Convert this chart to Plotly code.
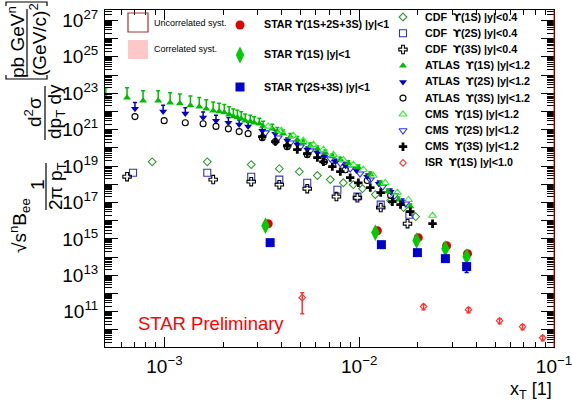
import plotly.graph_objects as go

# ---------------- data (x_T , scaled cross section) ----------------
cdf1s_x = [8.65e-4, 1.66e-3, 2.79e-3, 3.89e-3, 4.93e-3, 6.10e-3, 7.11e-3, 8.29e-3, 9.33e-3, 1.04e-2, 1.21e-2, 1.45e-2, 1.69e-2, 1.95e-2]
cdf1s_y = [1.7e19, 1.7e19, 1.2e19, 7.2e18, 4.9e18, 3.0e18, 1.8e18, 1.2e18, 9.5e17, 5.7e17, 2.7e17, 1.26e17, 5.2e16, 1.66e16]

cdf2s_x = [6.90e-4, 1.66e-3, 2.79e-3, 3.89e-3, 5.41e-3, 7.73e-3, 9.79e-3, 1.29e-2, 1.81e-2]
cdf2s_y = [4.3e18, 4.3e18, 2.6e18, 1.8e18, 1.2e18, 5.0e17, 2.1e17, 7.6e16, 2.1e16]

cdf3s_x = [6.43e-4, 1.78e-3, 2.79e-3, 3.89e-3, 5.41e-3, 7.64e-3, 9.79e-3, 1.29e-2, 1.77e-2]
cdf3s_y = [2.6e18, 1.8e18, 1.39e18, 9.5e17, 5.7e17, 2.1e17, 1.8e17, 5.2e16, 6.8e15]

atlas1s_x = [5.0e-4, 6.43e-4, 7.77e-4, 9.29e-4, 1.07e-3, 1.20e-3, 1.36e-3, 1.51e-3, 1.64e-3, 1.78e-3,
             1.91e-3, 2.03e-3, 2.15e-3, 2.26e-3, 2.37e-3, 2.48e-3, 2.60e-3, 2.76e-3, 2.89e-3, 3.07e-3,
             3.21e-3, 3.58e-3, 3.80e-3, 4.07e-3, 4.43e-3, 4.81e-3, 5.16e-3, 5.61e-3, 6.10e-3, 6.70e-3,
             7.28e-3, 8.0e-3, 8.79e-3, 9.9e-3, 1.14e-2, 1.29e-2, 1.40e-2, 1.59e-2, 1.83e-2]
atlas1s_y = [5.7e22, 5.7e22, 3.9e22, 3.9e22, 3.0e22, 2.7e22, 2.1e22, 1.8e22, 1.4e22, 1.1e22,
             9.8e21, 8.6e21, 6.7e21, 5.2e21, 4.6e21, 4.0e21, 3.1e21, 2.8e21, 2.4e21, 2.1e21,
             1.5e21, 1.1e21, 7.8e20, 6.0e20, 4.1e20, 2.8e20, 1.9e20, 1.3e20, 9.0e19, 5.4e19,
             3.3e19, 2.2e19, 1.4e19, 8.2e18, 3.4e18, 1.08e18, 3.9e17, 1.4e17, 5.9e16]
atlas1s_rel_up = [2.5, 2.5, 2.5, 2.5, 2.5, 2.4, 2.3, 2.2, 2.1, 2.0,
                  1.9, 1.8, 1.7, 1.6, 1.5, 1.4, 1.3, 1.2, 1.1, 1.0,
                  0.9, 0.8, 0.7, 0.6, 0.5, 0.5, 0.4, 0.4, 0.4, 0.4,
                  0.4, 0.4, 0.4, 0.4, 0.4, 0.4, 0.4, 0.4, 0.4]

atlas2s_x = [7.06e-4, 9.85e-4, 1.28e-3, 1.58e-3, 1.84e-3, 2.13e-3, 2.42e-3, 2.69e-3, 3.18e-3, 3.71e-3,
             4.27e-3, 4.81e-3, 5.41e-3, 6.10e-3, 6.62e-3, 7.55e-3, 8.50e-3, 9.68e-3, 1.10e-2, 1.26e-2,
             1.45e-2, 1.67e-2]
atlas2s_y = [1.4e22, 9.8e21, 7.6e21, 4.6e21, 3.1e21, 2.4e21, 1.9e21, 1.5e21, 8.8e20, 6.0e20,
             2.5e20, 1.5e20, 8.0e19, 5.4e19, 3.3e19, 1.7e19, 1.05e19, 5.6e18, 2.6e18, 1.08e18,
             3.9e17, 1.1e17]
atlas2s_rel_up = [1.2, 1.2, 1.1, 1.0, 1.0, 0.9, 0.8, 0.7, 0.6, 0.5,
                  0.4, 0.4, 0.4, 0.4, 0.4, 0.4, 0.4, 0.4, 0.4, 0.4, 0.4, 0.4]

atlas3s_x = [7.06e-4, 9.97e-4, 1.28e-3, 1.58e-3, 1.84e-3, 2.13e-3, 2.42e-3, 2.69e-3, 3.18e-3, 3.71e-3,
             4.27e-3, 5.41e-3, 6.62e-3, 8.50e-3, 1.10e-2, 1.45e-2]
atlas3s_y = [5.2e21, 3.1e21, 2.4e21, 2.1e21, 1.5e21, 1.1e21, 7.8e20, 6.0e20, 3.6e20, 2.2e20,
             1.16e20, 4.2e19, 1.7e19, 6.3e18, 1.6e18, 2.4e17]

cms1s_x = [3.41e-3, 3.98e-3, 4.59e-3, 5.16e-3, 5.82e-3, 6.55e-3, 7.37e-3, 8.29e-3, 9.33e-3, 1.05e-2,
           1.18e-2, 1.36e-2, 1.57e-2, 1.79e-2, 2.38e-2]
cms1s_y = [1.5e21, 8.8e20, 4.7e20, 2.5e20, 1.5e20, 8.0e19, 4.2e19, 2.2e19, 1.2e19, 6.3e18,
           3.0e18, 1.2e18, 3.5e17, 1.4e17, 1.9e16]

cms2s_x = [3.30e-3, 3.84e-3, 4.43e-3, 4.99e-3, 5.61e-3, 6.32e-3, 7.11e-3, 8.0e-3, 8.99e-3, 1.01e-2,
           1.14e-2, 1.32e-2, 1.52e-2, 1.73e-2]
cms2s_y = [6.8e20, 3.6e20, 1.9e20, 1.16e20, 7.0e19, 4.2e19, 2.55e19, 1.4e19, 7.2e18, 3.8e18,
           1.8e18, 7.4e17, 2.4e17, 8.6e16]

cms3s_x = [3.18e-3, 3.71e-3, 4.27e-3, 4.81e-3, 5.41e-3, 6.10e-3, 6.55e-3, 7.28e-3, 8.0e-3, 8.99e-3,
           9.9e-3, 1.14e-2, 1.29e-2, 1.48e-2, 1.63e-2, 1.83e-2, 2.38e-2]
cms3s_y = [4.1e20, 2.2e20, 1.3e20, 8.0e19, 4.8e19, 2.9e19, 1.7e19, 9.3e18, 4.9e18, 2.3e18,
           1.2e18, 6.5e17, 3.5e17, 1.1e17, 7.6e16, 3.1e16, 6.8e15]

isr1s_x = [5.10e-3, 2.14e-2, 3.64e-2, 5.26e-2, 6.90e-2, 8.75e-2]
isr1s_y = [5.9e11, 1.9e11, 1.29e11, 3.2e10, 1.5e10, 3.7e9]
isr1s_rel_up = [0.88, 0.29, 0.29, 0.29, 0.29, 0.29]
isr1s_rel_dn = [0.87, 0.32, 0.32, 0.32, 0.32, 0.32]

star123_x = [3.41e-3, 1.24e-2, 2.01e-2, 2.81e-2, 3.60e-2]
star123_y = [6.8e15, 2.8e15, 1.16e15, 4.2e14, 1.54e14]
star1s_x = [3.30e-3, 1.21e-2, 1.97e-2, 2.77e-2, 3.56e-2]
star1s_y = [5.3e15, 2.2e15, 8.0e14, 2.9e14, 1.05e14]
star23_x = [3.49e-3, 1.30e-2, 1.99e-2, 2.77e-2, 3.56e-2]
star23_y = [6.2e14, 4.8e14, 1.75e14, 8.2e13, 3.0e13]
star23_rel_dn = [0.35, 0.2, 0.2, 0.3, 0.53]

x_tick_vals = [1e-3, 1e-2, 1e-1]
x_tick_text = ["10<sup>−3</sup>", "10<sup>−2</sup>", "10<sup>−1</sup>"]
y_exponents = list(range(9, 28))

UPS = '<span style="font-family:DejaVu Sans">ϒ</span>'
legend_right = [
    ("CDF  %s(1S) |y|<0.4", "diamond-open", "#339933", 6),
    ("CDF  %s(2S) |y|<0.4", "square-open", "#3333bb", 7),
    ("CDF  %s(3S) |y|<0.4", "cross-open", "#000000", 7),
    ("ATLAS  %s(1S) |y|<1.2", "triangle-up", "#00bb00", 7),
    ("ATLAS  %s(2S) |y|<1.2", "triangle-down", "#0000cc", 7),
    ("ATLAS  %s(3S) |y|<1.2", "circle-open", "#000000", 6),
    ("CMS  %s(1S) |y|<1.2", "triangle-up-open", "#33ee33", 7),
    ("CMS  %s(2S) |y|<1.2", "triangle-down-open", "#3333ff", 7),
    ("CMS  %s(3S) |y|<1.2", "cross", "#000000", 7),
    ("ISR  %s(1S) |y|<1.0", "diamond-open", "#ff3333", 5),
]
legend_star = [
    ("STAR %s(1S+2S+3S) |y|<1", "circle", "#dd0000", 9),
    ("STAR %s(1S) |y|<1", "diamond-tall", "#00cc00", 12),
    ("STAR %s(2S+3S) |y|<1", "square", "#0000cc", 9),
]

# ---------------- layout helpers (pixel -> paper) ----------------
FX0, FX1, FY0, FY1 = 105.0, 554.0, 10.0, 347.0
def pxx(v):
    return (v - FX0) / (FX1 - FX0)
def pyy(v):
    return (FY1 - v) / (FY1 - FY0)

fig = go.Figure()

def series(x, y, symbol, color, size, lw=1.1, err_up=None, err_dn=None):
    open_ = symbol.endswith("-open")
    kw = {}
    if err_up is not None or err_dn is not None:
        up = [yy * r for yy, r in zip(y, err_up)] if err_up else [0] * len(y)
        dn = [yy * r for yy, r in zip(y, err_dn)] if err_dn else [0] * len(y)
        kw["error_y"] = dict(type="data", symmetric=False, array=up, arrayminus=dn,
                             color=color, thickness=1.5, width=2)
    fig.add_trace(go.Scatter(
        x=x, y=y, mode="markers", showlegend=False, hoverinfo="skip",
        marker=dict(symbol=symbol, size=size, color=color,
                    line=dict(width=lw if open_ else 0, color=color)), **kw))

series(cdf1s_x, cdf1s_y, "diamond-open", "#339933", 6)
series(cdf2s_x, cdf2s_y, "square-open", "#3333bb", 7)
series(cdf3s_x, cdf3s_y, "cross-open", "#000000", 7)
series(isr1s_x, isr1s_y, "diamond-open", "#ff3333", 5, err_up=isr1s_rel_up, err_dn=isr1s_rel_dn)
series(atlas3s_x, atlas3s_y, "circle-open", "#000000", 6)
series(cms2s_x, cms2s_y, "triangle-down-open", "#3333ff", 7)
series(atlas2s_x, atlas2s_y, "triangle-down", "#0000cc", 7, err_up=atlas2s_rel_up)
series(atlas1s_x, atlas1s_y, "triangle-up", "#00bb00", 7, err_up=atlas1s_rel_up)
series(cms1s_x, cms1s_y, "triangle-up-open", "#33ee33", 7)
series(cms3s_x, cms3s_y, "cross", "#000000", 7)
series(star123_x, star123_y, "circle", "#dd0000", 9)
series(star1s_x, star1s_y, "diamond-tall", "#00cc00", 12)
series(star23_x, star23_y, "square", "#0000cc", 9, err_dn=star23_rel_dn)

# ---------------- legend (overlay axes in paper units) ----------------
row_y = [17, 33.3, 49.5, 65.7, 81.9, 98.1, 114.3, 130.5, 146.7, 162.9]
for (txt, sym, col, sz), ry in zip(legend_right, row_y):
    fig.add_trace(go.Scatter(x=[pxx(403)], y=[pyy(ry)], xaxis="x2", yaxis="y2", mode="markers",
                             showlegend=False, hoverinfo="skip", cliponaxis=False,
                             marker=dict(symbol=sym, size=sz, color=col,
                                         line=dict(width=1.1 if sym.endswith("-open") else 0, color=col))))
    fig.add_annotation(x=pxx(423), y=pyy(ry), xref="paper", yref="paper", text="<b>%s</b>" % (txt % UPS),
                       showarrow=False, xanchor="left", yanchor="middle",
                       font=dict(family="Liberation Sans, Arial", size=10.7, color="black"))
for (txt, sym, col, sz), ry in zip(legend_star, [25, 55, 87]):
    fig.add_trace(go.Scatter(x=[pxx(240)], y=[pyy(ry)], xaxis="x2", yaxis="y2", mode="markers",
                             showlegend=False, hoverinfo="skip", cliponaxis=False,
                             marker=dict(symbol=sym, size=sz, color=col, line=dict(width=0))))
    fig.add_annotation(x=pxx(262), y=pyy(ry), xref="paper", yref="paper", text="<b>%s</b>" % (txt % UPS),
                       showarrow=False, xanchor="left", yanchor="middle",
                       font=dict(family="Liberation Sans, Arial", size=10.7, color="black"))

shapes = [
    dict(type="rect", xref="paper", yref="paper", x0=pxx(128), x1=pxx(148), y0=pyy(32), y1=pyy(13),
         line=dict(color="#a83232", width=1.2), fillcolor="rgba(0,0,0,0)"),
    dict(type="rect", xref="paper", yref="paper", x0=pxx(128), x1=pxx(148), y0=pyy(59), y1=pyy(40),
         line=dict(width=0), fillcolor="#ffc8c8"),
    dict(type="line", xref="paper", yref="paper", x0=1, x1=1, y0=0, y1=1,
         line=dict(color="#ff0000", width=1)),
    # fraction bars of the y title
    dict(type="line", xref="paper", yref="paper", x0=pxx(46), x1=pxx(46), y0=pyy(210), y1=pyy(163),
         line=dict(color="black", width=1.2)),
    dict(type="line", xref="paper", yref="paper", x0=pxx(45), x1=pxx(45), y0=pyy(140), y1=pyy(86),
         line=dict(color="black", width=1.2)),
    dict(type="line", xref="paper", yref="paper", x0=pxx(27), x1=pxx(27), y0=pyy(76), y1=pyy(9),
         line=dict(color="black", width=1.2)),
    # brackets
    dict(type="path", xref="paper", yref="paper",
         path="M %f,%f L %f,%f L %f,%f L %f,%f" % (pxx(6), pyy(75), pxx(6), pyy(79), pxx(47), pyy(79), pxx(47), pyy(75)),
         line=dict(color="black", width=1.2)),
    dict(type="path", xref="paper", yref="paper",
         path="M %f,%f L %f,%f L %f,%f L %f,%f" % (pxx(6), pyy(6), pxx(6), pyy(2), pxx(47), pyy(2), pxx(47), pyy(6)),
         line=dict(color="black", width=1.2)),
]
for s in shapes:
    fig.add_shape(**s)

def ann(text, x, y, size, angle=0, color="black", xanchor="center", yanchor="middle"):
    fig.add_annotation(x=pxx(x), y=pyy(y), xref="paper", yref="paper", text=text, showarrow=False,
                       textangle=angle, xanchor=xanchor, yanchor=yanchor,
                       font=dict(family="Liberation Sans, Arial", size=size, color=color))

ann("Uncorrelated syst.", 152, 23, 9, xanchor="left")
ann("Correlated syst.", 152, 49, 9, xanchor="left")
ann("STAR Preliminary", 211, 323, 18.5, color="#ff0000")
ann("x<sub>T</sub> [1]", 554, 390, 18, xanchor="right")

# y-axis title pieces (rotated)
ann("√s<sup>n</sup>B<sub>ee</sub>", 20, 226, 19, angle=-90)
ann("1", 37, 185, 19, angle=-90)
ann("2π p<sub>T</sub>", 57, 186, 19, angle=-90)
ann("d<sup>2</sup>σ", 33, 112, 19, angle=-90)
ann("dp<sub>T</sub> dy", 56, 112, 19, angle=-90)
ann("pb GeV<sup>n</sup>", 16, 42, 19, angle=-90)
ann("(GeV/c)<sup>2</sup>", 38, 40, 19, angle=-90)

# ---------------- axes ----------------
x_minor = [k * 10.0 ** e for e in (-4, -3, -2) for k in range(2, 10)]
y_minor = [k * 10.0 ** e for e in range(8, 28) for k in range(2, 10)]
y_tick_vals = [10.0 ** e for e in y_exponents]
y_tick_text = ["10<sup>%d</sup>" % e if e % 2 == 1 else "" for e in y_exponents]

fig.update_layout(
    width=572, height=401, autosize=False,
    margin=dict(l=105, r=18, t=10, b=54, pad=0),
    paper_bgcolor="white", plot_bgcolor="white",
    font=dict(family="Liberation Sans, Arial", color="black"),
    xaxis=dict(type="log", range=[-3.305, -0.9999], showgrid=False, zeroline=False, automargin=False,
               showline=True, linecolor="black", linewidth=1, mirror="allticks",
               ticks="inside", ticklen=10, tickcolor="black", tickwidth=1,
               tickvals=x_tick_vals, ticktext=x_tick_text, tickfont=dict(size=19),
               ticklabelstandoff=2, ticklabeloverflow="allow",
               minor=dict(tickvals=x_minor, ticks="inside", ticklen=5, tickcolor="black", showgrid=False)),
    yaxis=dict(type="log", range=[9.06, 27.57], showgrid=False, zeroline=False, automargin=False,
               showline=True, linecolor="black", linewidth=1, mirror="allticks",
               ticks="inside", ticklen=13, tickcolor="black", tickwidth=1,
               tickvals=y_tick_vals, ticktext=y_tick_text, tickfont=dict(size=19),
               ticklabelstandoff=2, ticklabeloverflow="allow",
               minor=dict(tickvals=y_minor, ticks="inside", ticklen=7, tickcolor="black", showgrid=False)),
    xaxis2=dict(overlaying="x", range=[0, 1], visible=False, fixedrange=True, automargin=False),
    yaxis2=dict(overlaying="y", range=[0, 1], visible=False, fixedrange=True, automargin=False),
)

fig.write_html("out.html", config={"displayModeBar": False},
               post_script="document.body.style.margin='0px';")
